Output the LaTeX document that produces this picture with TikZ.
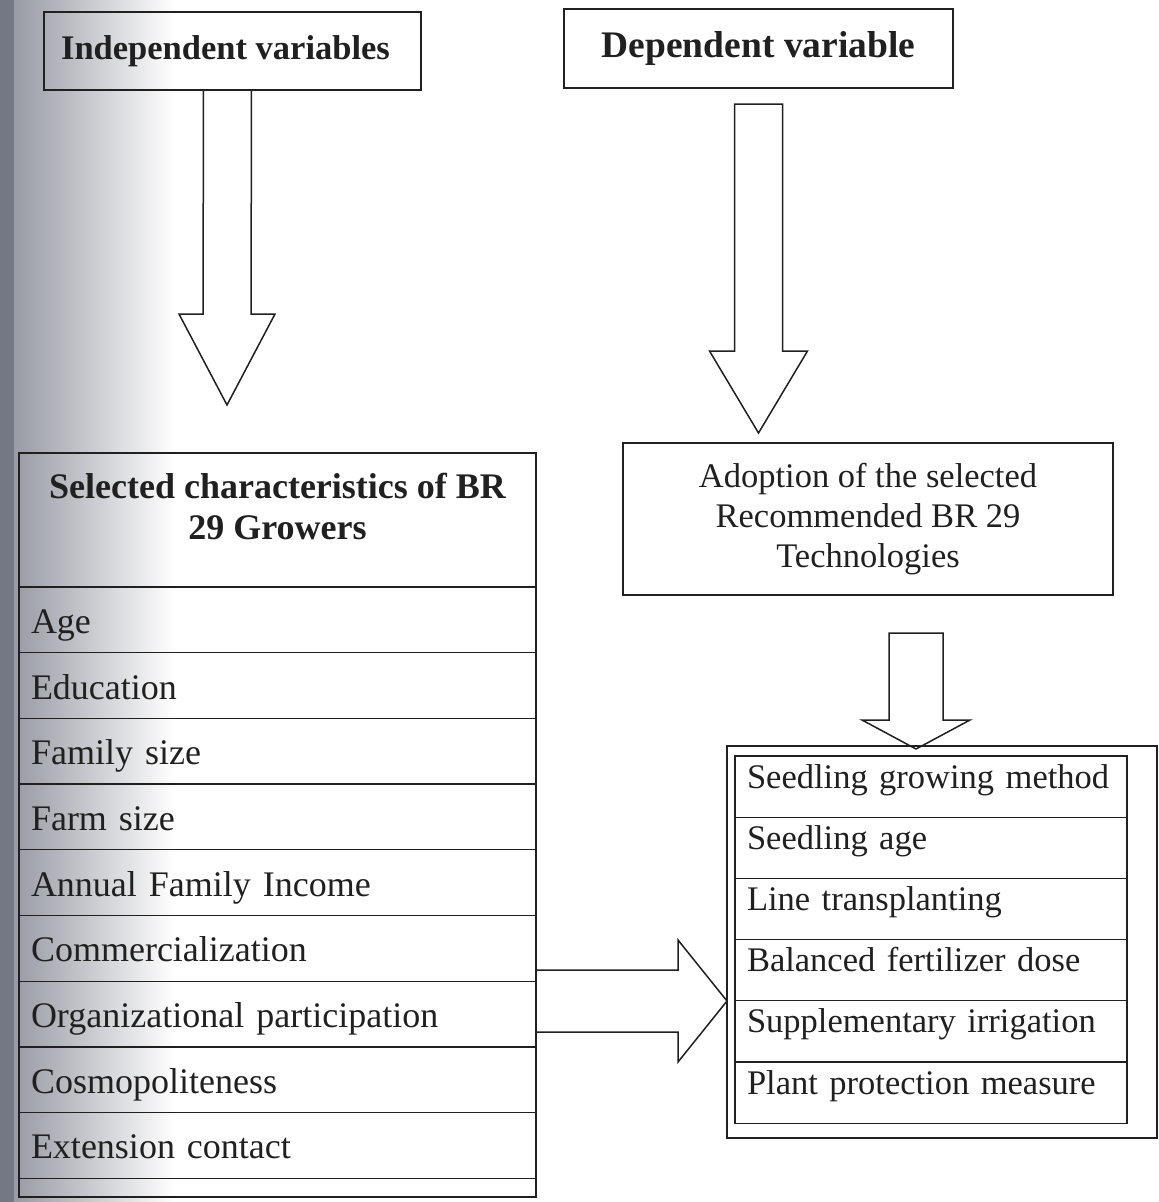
\documentclass[tikz,border=0pt]{standalone}
\usepackage{fontspec}
\setmainfont{Liberation Serif}
\usepackage{tikz}
\usetikzlibrary{positioning,calc}
\definecolor{ink}{RGB}{32,32,32}
\definecolor{scanedge}{RGB}{104,108,122}

% hollow block arrows: start, tip, shaft half width, head half width, head length
\newcommand{\blockdown}[5]{%
  \draw[blockarrow] ($(#1)+(-#3,0)$) -- ($(#1)+(#3,0)$) -- ($(#2)+(#3,-#5)$) -- ($(#2)+(#4,-#5)$)
    -- (#2) -- ($(#2)+(-#4,-#5)$) -- ($(#2)+(-#3,-#5)$) -- cycle;}
\newcommand{\blockright}[5]{%
  \draw[blockarrow] ($(#1)+(0,-#3)$) -- ($(#2)+(-#5,-#3)$) -- ($(#2)+(-#5,-#4)$)
    -- (#2) -- ($(#2)+(-#5,#4)$) -- ($(#2)+(-#5,#3)$) -- ($(#1)+(0,#3)$);}

\begin{document}
\begin{tikzpicture}[x=1pt, y=-1pt,
    every node/.style={text=ink},
    box/.style={draw=ink, line width=1.6pt, inner sep=0pt, outer sep=0pt},
    blockarrow/.style={draw=ink, line width=1.5pt, line join=miter},
    leftrow/.style={box, line width=1.3pt, minimum height=65.7pt, text width=493pt, inner xsep=12pt,
      align=left, text height=30pt, text depth=3pt, font=\fontsize{36}{42}\selectfont},
    rightrow/.style={box, line width=1.3pt, minimum height=61.2pt, text width=368pt, inner xsep=12pt,
      align=left, text height=24pt, text depth=21pt, font=\fontsize{34.5}{40}\selectfont}]
    \useasboundingbox (0,0) rectangle (1159,1202);

    % scanned page edge
    \fill[scanedge!92] (0,0) rectangle (14,1202);
    \shade[left color=scanedge!68, right color=white] (14,0) rectangle (175,1202);

    % headings
    \node[box, minimum width=377pt, minimum height=78pt, font=\bfseries\fontsize{34.5}{40}\selectfont]
        (indep) at (232.5,51) {Independent variables\hspace*{14pt}};
    \node[box, minimum width=389pt, minimum height=79pt, font=\bfseries\fontsize{37.5}{44}\selectfont]
        (dep) at (758.5,48.5) {Dependent variable};

    % adoption
    \node[box, minimum width=490pt, minimum height=152pt, align=center, font=\fontsize{34.5}{40}\selectfont]
        (adopt) at (868,519) {Adoption of the selected\\Recommended BR 29\\Technologies};

    % characteristics of the growers
    \node[box, minimum width=517pt, minimum height=744pt] (chars) at (277.5,825) {};
    \node[below=20pt of chars.north, inner sep=0pt, align=center, font=\bfseries\fontsize{36}{41}\selectfont]
        (head) {Selected characteristics of BR\\29 Growers};
    \node[leftrow, below=134pt of chars.north] (age) {Age};
    \node[leftrow, below=0pt of age] (edu) {Education};
    \node[leftrow, below=0pt of edu] (family) {Family size};
    \node[leftrow, below=0pt of family] (farm) {Farm size};
    \node[leftrow, below=0pt of farm] (income) {Annual Family Income};
    \node[leftrow, below=0pt of income] (comm) {Commercialization};
    \node[leftrow, below=0pt of comm] (org) {Organizational participation};
    \node[leftrow, below=0pt of org] (cosmo) {Cosmopoliteness};
    \node[leftrow, below=0pt of cosmo] (ext) {Extension contact};

    % technologies
    \node[box, minimum width=430pt, minimum height=392pt] (outer) at (942,942) {};
    \node[rightrow, below right=10pt and 8pt of outer.north west] (sgm) {Seedling growing method};
    \node[rightrow, below=0pt of sgm] (sage) {Seedling age};
    \node[rightrow, below=0pt of sage] (line) {Line transplanting};
    \node[rightrow, below=0pt of line] (fert) {Balanced fertilizer dose};
    \node[rightrow, below=0pt of fert] (irri) {Supplementary irrigation};
    \node[rightrow, below=0pt of irri] (prot) {Plant protection measure};

    % arrows
    \coordinate (a1top) at ([xshift=-5pt]indep.south);
    \coordinate (a1tip) at (227,405);
    \blockdown{a1top}{a1tip}{24}{48}{91}

    \coordinate (a2top) at ([yshift=-16pt]dep.south);
    \coordinate (a2tip) at ($(a2top |- adopt.north)+(0,-10)$);
    \blockdown{a2top}{a2tip}{24}{49}{82}

    \coordinate (a3top) at (916,633);
    \coordinate (a3tip) at ($(a3top |- outer.north)+(0,3)$);
    \blockdown{a3top}{a3tip}{27}{54}{29}

    \coordinate (a4start) at ($(chars.east)+(0,176)$);
    \coordinate (a4tip) at (outer.west |- a4start);
    \blockright{a4start}{a4tip}{31}{61}{49}
\end{tikzpicture}
\end{document}
